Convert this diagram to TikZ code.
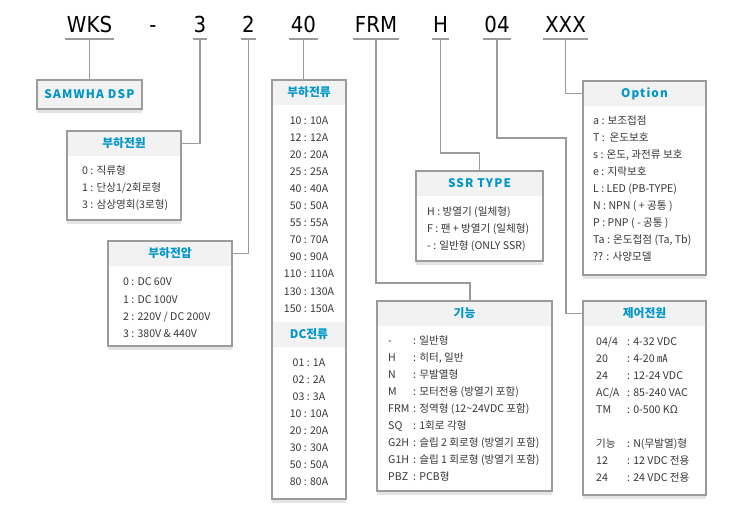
\documentclass[tikz,border=0pt]{standalone}
\usepackage{fontspec}
\setmainfont{Noto Sans CJK KR}
\newfontfamily\codefont{DejaVu Sans}[FakeStretch=0.9]
\newfontfamily\spacedfont{Noto Sans CJK KR}[LetterSpace=10]
\usepackage{xcolor}
\usepackage{tikz}
\usetikzlibrary{shadows}

\definecolor{linegray}{RGB}{155,155,155}
\definecolor{headgray}{RGB}{242,242,242}
\definecolor{shadowgray}{RGB}{228,228,228}
\definecolor{titleblue}{RGB}{0,150,200}
\definecolor{txtgray}{RGB}{55,55,55}

\tikzset{
	code/.style={font=\codefont\fontsize{22bp}{22bp}\selectfont, anchor=base, inner xsep=0pt, inner ysep=6bp, text depth=0pt},
	uline/.style={draw=linegray, line width=1.4bp},
	box/.style={anchor=north west, fill=white, inner sep=0pt, outer sep=0pt, general shadow={fill=shadowgray, shadow yshift=-4bp}},
	head/.style={anchor=north west, fill=headgray, inner sep=0pt, outer sep=0pt, minimum height=25bp, text height=8bp, text depth=0pt, text=titleblue, font=\bfseries\fontsize{11.8bp}{12bp}\selectfont},
	frame/.style={draw=linegray, line width=1.3bp},
	link/.style={draw=linegray, line width=1.7bp},
	row/.style={anchor=west, inner sep=0pt, text height=8bp, text depth=0pt, text=txtgray, font=\fontsize{10.6bp}{12bp}\selectfont}
}

\begin{document}
\begin{tikzpicture}[x=1bp,y=-1bp]
	\useasboundingbox (0,0) rectangle (735,513);

	% model code
	\node[code, minimum width=49bp] (wks) at (89.5,33) {WKS};
	\node[code] (dash) at (153,33) {-};
	\node[code, minimum width=14bp] (k3) at (200,33) {3};
	\node[code, minimum width=15bp] (k2) at (248.5,33) {2};
	\node[code, minimum width=29bp] (k40) at (303.5,33) {40};
	\node[code, minimum width=46bp] (frm) at (376,33) {FRM};
	\node[code, minimum width=17bp] (kh) at (440.5,33) {H};
	\node[code, minimum width=28bp] (k04) at (497,33) {04};
	\node[code, minimum width=45bp] (xxx) at (565.5,33) {XXX};
	\foreach \n in {wks,k3,k2,k40,frm,kh,k04,xxx}
		\draw[uline] (\n.south west) -- (\n.south east);

	% boxes
	\node[box, minimum width=105bp, minimum height=29bp] (dsp) at (37,80) {};
	\node[box, minimum width=114bp, minimum height=89bp] (pwr) at (67,131) {};
	\node[box, minimum width=124bp, minimum height=105bp] (volt) at (108,241) {};
	\node[box, minimum width=74bp, minimum height=419bp] (cur) at (272,80) {};
	\node[box, minimum width=127bp, minimum height=90bp] (ssr) at (416,171) {};
	\node[box, minimum width=175bp, minimum height=190bp] (func) at (377,301) {};
	\node[box, minimum width=123bp, minimum height=194bp] (opt) at (583,81) {};
	\node[box, minimum width=123bp, minimum height=194bp] (ctl) at (583,301) {};

	\node[head, minimum width=105bp, minimum height=29bp] (dspH) at (dsp.north west) {\spacedfont SAMWHA DSP};
	\node[head, minimum width=114bp] (pwrH) at (pwr.north west) {부하전원};
	\node[head, minimum width=124bp] (voltH) at (volt.north west) {부하전압};
	\node[head, minimum width=74bp] (curH) at (cur.north west) {부하전류};
	\node[head, minimum width=74bp] (dcH) at (272,322) {DC전류};
	\node[head, minimum width=127bp] (ssrH) at (ssr.north west) {\spacedfont SSR TYPE};
	\node[head, minimum width=175bp] (funcH) at (func.north west) {기능};
	\node[head, minimum width=123bp] (optH) at (opt.north west) {\spacedfont Option};
	\node[head, minimum width=123bp] (ctlH) at (ctl.north west) {제어전원};

	\foreach \b in {dsp,pwr,volt,cur,ssr,func,opt,ctl}
		\draw[frame] (\b.north west) rectangle (\b.south east);

	% entries
	\foreach \t [count=\i] in {0 : 직류형, 1 : 단상1/2회로형, 3 : 삼상영회(3로형)}
		\node[row] (pwr-\i) at (82,154+17*\i) {\t};
	\foreach \t [count=\i] in {0 : DC 60V, 1 : DC 100V, 2 : 220V / DC 200V, 3 : 380V \& 440V}
		\node[row] (volt-\i) at (123,265+17*\i) {\t};
	\foreach \a [count=\i] in {10,12,20,25,40,50,55,70,90,110,130,150}
		\node[row, anchor=center] (cur-\i) at (309,104+17*\i) {\a\ : \a A};
	\foreach \a/\b [count=\i] in {01/1,02/2,03/3,10/10,20/20,30/30,50/50,80/80}
		\node[row, anchor=center] (dc-\i) at (309,345+17*\i) {\a\ : \b A};
	\foreach \t [count=\i] in {H : 방열기 (일체형), F : 팬 + 방열기 (일체형), - : 일반형 (ONLY SSR)}
		\node[row] (ssr-\i) at (427,195+17*\i) {\t};
	\foreach \k/\v [count=\i] in {-/일반형, H/{히터, 일반}, N/무발열형, M/모터전용 (방열기 포함),
			FRM/정역형 (12\textasciitilde 24VDC 포함), SQ/1회로 각형, G2H/슬립 2 회로형 (방열기 포함),
			G1H/슬립 1 회로형 (방열기 포함), PBZ/PCB형}
		\node[row] (func-\i) at (388,323+17*\i) {\makebox[25bp][l]{\k}: \v};
	\foreach \t [count=\i] in {a : 보조접점, T : \ 온도보호, {s : 온도, 과전류 보호}, e : 지락보호,
			L : LED (PB-TYPE), N : NPN ( + 공통 ), P : PNP ( - 공통 ), {Ta : 온도접점 (Ta, Tb)}, ?? : 사양모델}
		\node[row] (opt-\i) at (593,104+17*\i) {\t};
	\foreach \k/\v [count=\i] in {{04/4}/4-32 VDC, 20/4-20 ㎃, 24/12-24 VDC, {AC/A}/85-240 VAC, TM/0-500 KΩ}
		\node[row] (ctl-\i) at (596,324+17*\i) {\makebox[31bp][l]{\k}: \v};
	\foreach \k/\v [count=\i] in {기능/N(무발열)형, 12/12 VDC 전용, 24/24 VDC 전용}
		\node[row] (ctlb-\i) at (596,426+17*\i) {\makebox[31bp][l]{\k}: \v};

	% connectors
	\coordinate (fk) at (470,283);
	\coordinate (ck) at (566,138);
	\draw[link] (wks.south) -- (wks.south |- dsp.north);
	\draw[link] (k3.south) |- (pwrH.east);
	\draw[link] (k2.south) |- (voltH.east);
	\draw[link] (k40.south) -- (k40.south |- cur.north);
	\draw[link] (frm.south) |- (fk) -- (fk |- func.north);
	\draw[link] (kh.south) |- ([yshift=18bp]ssr.north) -- (ssr.north);
	\draw[link] (k04.south) |- (ck) |- (ctlH.west);
	\draw[link] (xxx.south) |- (optH.west);
\end{tikzpicture}
\end{document}
